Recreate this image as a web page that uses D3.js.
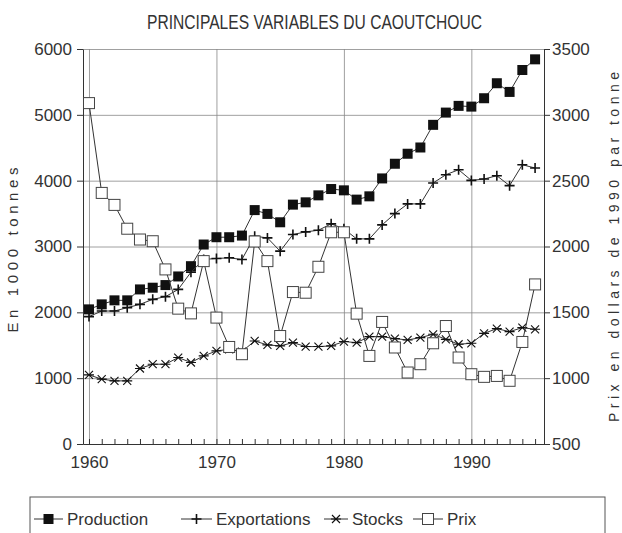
<!DOCTYPE html>
<html>
<head>
<meta charset="utf-8">
<title>Principales variables du caoutchouc</title>
<script src="https://d3js.org/d3.v7.min.js"></script>
<style>
  body { margin: 0; background: #fff; }
  text { font-family: "Liberation Sans", Arial, sans-serif; fill: #333; }
  .grid line { stroke: #888; stroke-width: 0.8; }
  .grid path { display: none; }
  .axis path, .axis line { stroke: #333; stroke-width: 1; }
  .axis text { font-size: 17px; }
  .serie { fill: none; stroke: #333; stroke-width: 1; }
</style>
</head>
<body>
<script>
// donnees
var annees = d3.range(1960, 1996);
var production = [2045, 2121, 2182, 2182, 2348, 2374, 2414, 2545, 2701, 3030,
  3141, 3141, 3166, 3553, 3495, 3368, 3636, 3671, 3777, 3873,
  3853, 3712, 3762, 4034, 4257, 4409, 4504, 4848, 5034, 5136,
  5125, 5252, 5480, 5348, 5681, 5843];
var exportations = [1935, 2020, 2020, 2071, 2121, 2197, 2238, 2348, 2610, 2803,
  2818, 2828, 2803, 3156, 3131, 2929, 3182, 3222, 3247, 3344,
  3268, 3116, 3116, 3328, 3500, 3647, 3647, 3965, 4090, 4166,
  4004, 4025, 4075, 3924, 4242, 4192];
var stocks = [1050, 985, 959, 959, 1147, 1212, 1212, 1313, 1238, 1338,
  1414, 1439, 1404, 1565, 1505, 1490, 1540, 1480, 1480, 1490,
  1556, 1540, 1631, 1631, 1601, 1580, 1616, 1666, 1590, 1515,
  1530, 1681, 1752, 1707, 1767, 1742];
var prix = [3089, 2407, 2316, 2135, 2053, 2040, 1826, 1528, 1492, 1889,
  1460, 1237, 1182, 2038, 1889, 1320, 1654, 1649, 1846, 2108,
  2108, 1490, 1169, 1427, 1233, 1043, 1106, 1265, 1396, 1157,
  1030, 1010, 1017, 980, 1275, 1712];
var ticksGauche = [0, 1000, 2000, 3000, 4000, 5000, 6000];
var ticksDroite = [500, 1000, 1500, 2000, 2500, 3000, 3500];
var decennies = [1960, 1970, 1980, 1990];

var margin = {top: 49, right: 78, bottom: 89, left: 83};
var width = 622 - margin.left - margin.right;
var height = 533 - margin.top - margin.bottom;

var svgRoot = d3.select("body").append("svg")
  .attr("width", 622)
  .attr("height", 533);

var svg = svgRoot.append("g")
  .attr("transform", "translate(" + margin.left + "," + margin.top + ")");

var x = d3.scaleLinear().domain([1959.53, 1995.7]).range([0, width]);
var y = d3.scaleLinear().domain([0, 6000]).range([height, 0]);
var y2 = d3.scaleLinear().domain([500, 3500]).range([height, 0]);

// grille
svg.append("g")
  .attr("class", "grid")
  .call(d3.axisLeft(y).tickValues(ticksGauche).tickSize(-width).tickFormat(""));
svg.append("g")
  .attr("class", "grid")
  .attr("transform", "translate(0," + height + ")")
  .call(d3.axisBottom(x).tickValues(decennies).tickSize(height).tickFormat(""))
  .selectAll("line").attr("y2", -height);

// axes
svg.append("g")
  .attr("class", "axis")
  .call(d3.axisLeft(y).tickValues(ticksGauche).tickFormat(d3.format("d"))
    .tickSizeInner(6).tickSizeOuter(0).tickPadding(5));

svg.append("g")
  .attr("class", "axis")
  .attr("transform", "translate(" + width + ",0)")
  .call(d3.axisRight(y2).tickValues(ticksDroite).tickFormat(d3.format("d"))
    .tickSizeInner(6).tickSizeOuter(0).tickPadding(2));

svg.append("g")
  .attr("class", "axis")
  .attr("transform", "translate(0," + height + ")")
  .call(d3.axisBottom(x).tickValues(annees).tickSizeInner(-5).tickSizeOuter(0).tickPadding(12)
    .tickFormat(function(d) { return d % 10 === 0 ? d : ""; }));

// titres
svgRoot.append("text")
  .attr("x", 147).attr("y", 29)
  .attr("textLength", 335).attr("lengthAdjust", "spacingAndGlyphs")
  .style("font-size", "21px")
  .text("PRINCIPALES VARIABLES DU CAOUTCHOUC");

svgRoot.append("text")
  .attr("transform", "translate(18,250) rotate(-90)")
  .attr("text-anchor", "middle")
  .attr("textLength", 165).attr("lengthAdjust", "spacing")
  .style("font-size", "15px")
  .text("En 1000 tonnes");

svgRoot.append("text")
  .attr("transform", "translate(619,247) rotate(-90)")
  .attr("text-anchor", "middle")
  .attr("textLength", 350).attr("lengthAdjust", "spacing")
  .style("font-size", "14px")
  .text("Prix en dollars de 1990 par tonne");

// marqueurs
function marqueur(g, type) {
  if (type === "carre") {
    g.append("rect").attr("x", -5).attr("y", -5).attr("width", 10).attr("height", 10)
      .attr("fill", "#111");
  } else if (type === "plus") {
    g.append("path").attr("d", "M-5,0H5M0,-5V5")
      .attr("stroke", "#111").attr("stroke-width", 1.6).attr("fill", "none");
  } else if (type === "etoile") {
    g.append("path").attr("d", "M-5,0H5M-4,-4L4,4M-4,4L4,-4")
      .attr("stroke", "#111").attr("stroke-width", 1.1).attr("fill", "none");
  } else {
    g.append("rect").attr("x", -5.5).attr("y", -5.5).attr("width", 11).attr("height", 11)
      .attr("fill", "#fff").attr("stroke", "#444").attr("stroke-width", 1);
  }
}

var series = [
  {nom: "Production", valeurs: production, echelle: y, type: "carre"},
  {nom: "Exportations", valeurs: exportations, echelle: y, type: "plus"},
  {nom: "Stocks", valeurs: stocks, echelle: y, type: "etoile"},
  {nom: "Prix", valeurs: prix, echelle: y2, type: "vide"}
];

series.forEach(function(s) {
  var line = d3.line()
    .x(function(d, i) { return x(annees[i]); })
    .y(function(d) { return s.echelle(d); });
  svg.append("path")
    .datum(s.valeurs)
    .attr("class", "serie")
    .attr("d", line);
  svg.selectAll(".m-" + s.type)
    .data(s.valeurs)
    .enter().append("g")
    .attr("class", "m-" + s.type)
    .attr("transform", function(d, i) {
      return "translate(" + x(annees[i]) + "," + s.echelle(d) + ")";
    })
    .each(function() { marqueur(d3.select(this), s.type); });
});

// legende
var legende = svgRoot.append("g");
legende.append("rect")
  .attr("x", 30).attr("y", 497).attr("width", 575).attr("height", 60)
  .attr("fill", "none").attr("stroke", "#555").attr("stroke-width", 1);

var posLegende = [
  {ligne: 34, texte: 67},
  {ligne: 181, texte: 216},
  {ligne: 324, texte: 352},
  {ligne: 413, texte: 447}
];

series.forEach(function(s, i) {
  var p = posLegende[i];
  var g = legende.append("g").attr("transform", "translate(" + p.ligne + ",519)");
  var len = p.texte - p.ligne - 4;
  g.append("line").attr("x1", 0).attr("x2", len).attr("y1", 0).attr("y2", 0)
    .attr("stroke", "#333");
  var m = g.append("g").attr("transform", "translate(" + (len / 2) + ",0)");
  marqueur(m, s.type);
  legende.append("text")
    .attr("x", p.texte).attr("y", 525)
    .style("font-size", "17px")
    .text(s.nom);
});
</script>
</body>
</html>
